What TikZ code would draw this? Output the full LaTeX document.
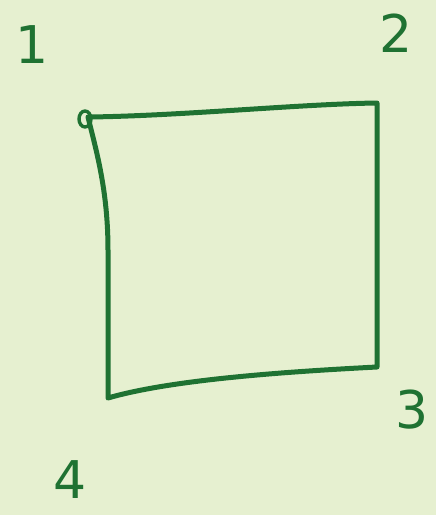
\documentclass[tikz,border=0pt]{standalone}
\usepackage{fontspec}
\setmainfont{DejaVu Sans}
\definecolor{bg}{HTML}{E6F0D0}
\definecolor{ink}{HTML}{1F7232}
\tikzset{
  pen/.style={draw=ink, line width=5pt, line cap=round, line join=round},
  lbl/.style={text=ink, font=\fontsize{52}{52}\selectfont, inner sep=0pt}
}
\begin{document}
\begin{tikzpicture}[x=1pt,y=-1pt]
\fill[bg] (0,0) rectangle (436,515);
\useasboundingbox (0,0) rectangle (436,515);
\coordinate (tl) at (88,117);
\coordinate (tr) at (377,103);
\coordinate (br) at (377,367);
\coordinate (bl) at (108,398);
\draw[pen] (tl) .. controls (180,116) and (300,104) .. (tr) -- (br)
  .. controls (280,372) and (170,380) .. (bl)
  -- (108,250) .. controls (108,190) and (96,150) .. (tl);
\draw[pen, line width=3.4pt] (85,119) circle[x radius=6pt, y radius=8pt];
\node[lbl] (n1) at (32,45) {1};
\node[lbl] (n2) at (396,33) {2};
\node[lbl] (n3) at (412,410) {3};
\node[lbl] (n4) at (70,480) {4};
\end{tikzpicture}
\end{document}
